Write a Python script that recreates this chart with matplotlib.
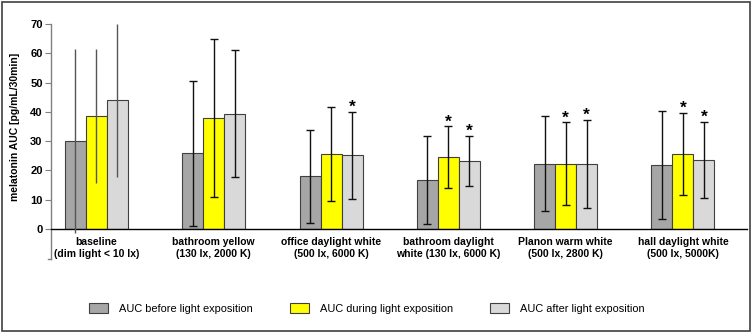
import numpy as np
import matplotlib
matplotlib.use("Agg")
import matplotlib.pyplot as plt
from matplotlib.patches import Rectangle

plt.rcParams['font.family'] = ['Liberation Sans', 'DejaVu Sans']

# data
categories = ["baseline\n(dim light < 10 lx)",
              "bathroom yellow\n(130 lx, 2000 K)",
              "office daylight white\n(500 lx, 6000 K)",
              "bathroom daylight\nwhite (130 lx, 6000 K)",
              "Planon warm white\n(500 lx, 2800 K)",
              "hall daylight white\n(500 lx, 5000K)"]
series_names = ["AUC before light exposition",
                "AUC during light exposition",
                "AUC after light exposition"]
auc_before = [30.2, 25.8, 18.0, 16.8, 22.3, 21.9]
auc_during = [38.5, 38.0, 25.7, 24.5, 22.3, 25.6]
auc_after = [43.9, 39.4, 25.2, 23.3, 22.3, 23.5]
sd_before = [31.4, 24.7, 15.9, 15.0, 16.3, 18.4]
sd_during = [22.8, 27.0, 16.1, 10.5, 14.1, 14.1]
sd_after = [26.0, 21.8, 14.8, 8.6, 15.0, 13.0]
# significance markers (group index, series index)
stars = [(2, 2), (3, 1), (3, 2), (4, 1), (4, 2), (5, 1), (5, 2)]

means = [auc_before, auc_during, auc_after]
sds = [sd_before, sd_during, sd_after]
colors = ["#a6a6a6", "#ffff00", "#d9d9d9"]

fig = plt.figure(figsize=(7.53, 3.33), dpi=100)
ax = fig.add_axes([0.0677, 0.3123, 0.9243, 0.6157])

x = np.arange(len(categories))
w = 0.179
for i in range(3):
    xs = x + (i - 1) * w
    ax.bar(xs, means[i], width=w, color=colors[i], edgecolor="#404040",
           linewidth=0.8, label=series_names[i], zorder=2)
    for g in range(len(categories)):
        # baseline group drawn without caps
        cap = 0 if g == 0 else 3
        ecol = "#555555" if g == 0 else "#111111"
        ax.errorbar(xs[g], means[i][g], yerr=sds[i][g], fmt="none",
                    ecolor=ecol, elinewidth=1, capsize=cap, capthick=1,
                    zorder=3, clip_on=False)

for g, s in stars:
    top = means[s][g] + sds[s][g]
    ax.annotate("*", (x[g] + (s - 1) * w, top), xytext=(0, 0),
                textcoords="offset points", ha="center", va="baseline",
                fontsize=12.5, fontweight="bold")

ax.set_xlim(-0.388, 5.546)
ax.set_ylim(0, 70)
ax.set_yticks(range(0, 71, 10))
ax.tick_params(axis="y", direction="out", length=4, width=0.8,
               color="#808080", labelsize=8, pad=2)
for lab in ax.get_yticklabels():
    lab.set_fontweight("bold")
ax.set_xticks(x)
ax.set_xticklabels(categories, fontsize=7.5, fontweight="bold",
                   linespacing=1.15)
ax.tick_params(axis="x", length=0, pad=6)

for sp in ["top", "right", "left"]:
    ax.spines[sp].set_visible(False)
ax.spines["bottom"].set_linewidth(1)
ax.spines["bottom"].set_color("black")
# left axis runs below zero like in the original
ax.plot([-0.388, -0.388], [-10.2, 70], color="#808080", lw=1,
        clip_on=False, zorder=1)
ax.plot([-0.41, -0.388], [-10.2, -10.2], color="#808080", lw=1,
        clip_on=False, zorder=1)

ax.set_ylabel("melatonin AUC [pg/mL/30min]", fontsize=7.5,
              fontweight="bold", labelpad=7)

fig.legend(loc="center", bbox_to_anchor=(0.487, 0.075), ncol=3,
           frameon=False, fontsize=7.9, handlelength=1.7, handleheight=1.1,
           handletextpad=1.0, columnspacing=3.4)

fig.patches.append(Rectangle((0.003, 0.006), 0.993, 0.988,
                             transform=fig.transFigure, fill=False,
                             edgecolor="#404040", linewidth=1.2))

fig.savefig("out.png", dpi=100)
